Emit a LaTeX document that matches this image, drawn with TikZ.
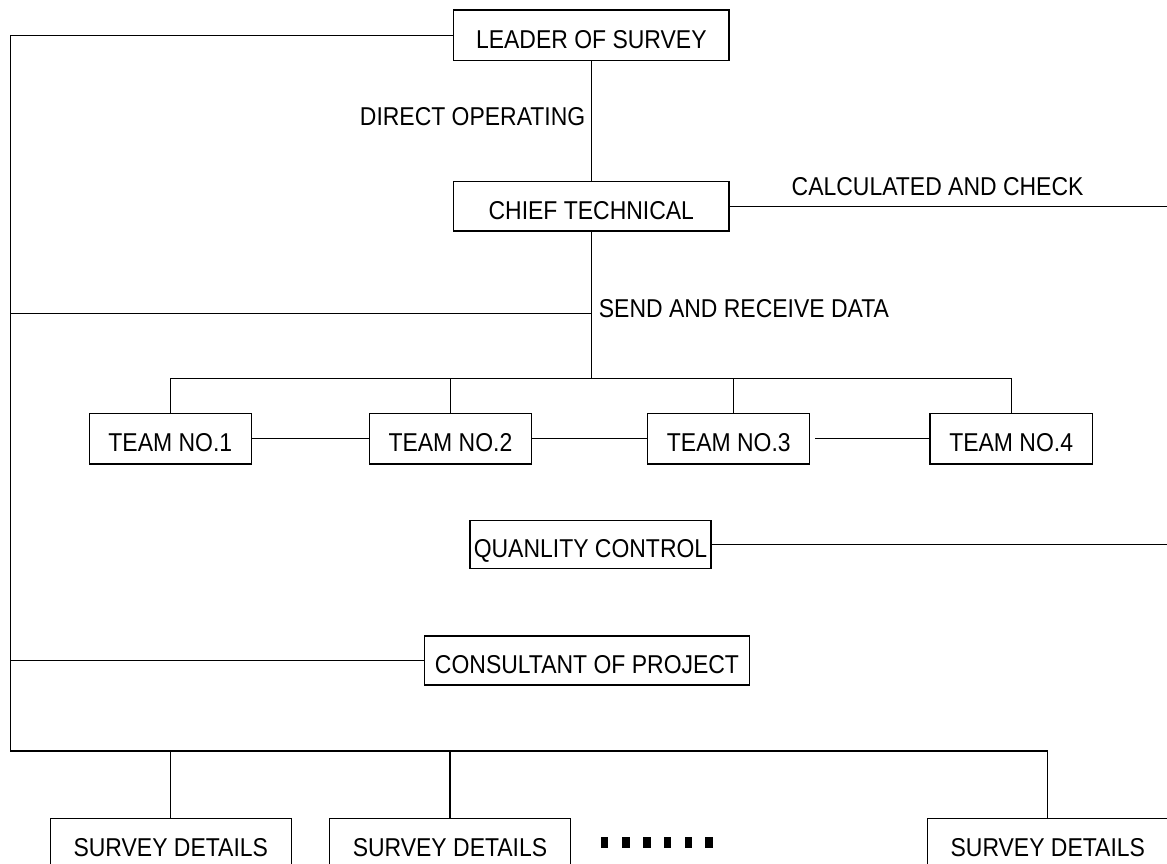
\documentclass[tikz,border=0pt]{standalone}
\usepackage{fontspec}
\setmainfont[FakeStretch=0.89]{Liberation Sans}
\begin{document}
\begin{tikzpicture}[x=1pt,y=-1pt,
  every node/.style={font=\fontsize{25.8}{30}\selectfont, inner sep=0pt},
  orgbox/.style={draw, line width=1.3pt, text height=26.5pt, text depth=0pt},
  lbl/.style={},
  conn/.style={line width=1.3pt},
  dotsq/.style={fill=black, minimum width=7.7pt, minimum height=11pt}]
\useasboundingbox (0,0) rectangle (1167,863);

% boxes
\node[orgbox, minimum width=275.5pt, minimum height=50.7pt] (leader) at (591.3,35.35) {LEADER OF SURVEY};
\node[orgbox, minimum width=275.5pt, minimum height=49.3pt] (chief) at (591.3,206.35) {CHIEF TECHNICAL};
\node[orgbox, minimum width=162.2pt, minimum height=50.7pt] (t1) at (170.3,438.65) {TEAM NO.1};
\node[orgbox, minimum width=162.2pt, minimum height=50.7pt] (t2) at (450.4,438.65) {TEAM NO.2};
\node[orgbox, minimum width=162.0pt, minimum height=50.7pt] (t3) at (728.8,438.65) {TEAM NO.3};
\node[orgbox, minimum width=162.2pt, minimum height=50.7pt] (t4) at (1011.2,438.65) {TEAM NO.4};
\node[orgbox, minimum width=241pt, minimum height=48.4pt] (qc) at (590.5,544.5) {QUANLITY CONTROL};
\node[orgbox, minimum width=325.3pt, minimum height=49pt] (cons) at (587,660.5) {CONSULTANT OF PROJECT};
\node[orgbox, minimum width=241.1pt, minimum height=50pt] (s1) at (170.8,843.3) {SURVEY DETAILS};
\node[orgbox, minimum width=241.2pt, minimum height=50pt] (s2) at (450.0,843.3) {SURVEY DETAILS};
\node[orgbox, minimum width=241pt, minimum height=50pt] (s3) at (1047.8,843.3) {SURVEY DETAILS};

% labels
\node[lbl, anchor=base east] (lDirect) at (585.5,125.95) {DIRECT OPERATING};
\node[lbl, anchor=base west] (lCalc) at (791.5,195.95) {CALCULATED AND CHECK};
\node[lbl, anchor=base west] (lSend) at (598.7,317.55) {SEND AND RECEIVE DATA};

% coordinates
\coordinate (tl) at (10.3,35.35);
\coordinate (bl) at (10.3,751);
\coordinate (sendL) at (10.3,313.3);
\coordinate (sendC) at (591.3,313.3);
\coordinate (busC) at (591.3,378.3);
\coordinate (calcR) at (1167,206.35);
\coordinate (qcR) at (1167,544.5);
\coordinate (consL) at (10.3,660.5);
\coordinate (t3top) at ([xshift=4.6pt]t3.north);

% connectors
\draw[conn] (leader.west) -- (tl) -- (bl) -- (s3.north |- bl) -- (s3.north);
\draw[conn] (leader) -- (chief);
\draw[conn] (chief.south) -- (busC);
\draw[conn] (sendL) -- (sendC);
\draw[conn] (chief.east) -- (calcR);
\draw[conn] (t1.north) -- (t1.north |- busC) -- (t4.north |- busC) -- (t4.north);
\draw[conn] (t2.north) -- (t2.north |- busC);
\draw[conn] (t3top) -- (t3top |- busC);
\draw[conn] (t1) -- (t2);
\draw[conn] (t2) -- (t3);
\draw[conn, shorten <=4.6pt] (t3) -- (t4);
\draw[conn] (qc.east) -- (qcR);
\draw[conn] (consL) -- (cons.west);
\draw[conn] (s1.north) -- (s1.north |- bl);
\draw[conn] (s2.north) -- (s2.north |- bl);

% dots
\foreach \i/\x in {1/604.5,2/625.8,3/647.1,4/667.6,5/688.5,6/709}
  \node[dotsq] (dot\i) at (\x,842.3) {};
\end{tikzpicture}
\end{document}
